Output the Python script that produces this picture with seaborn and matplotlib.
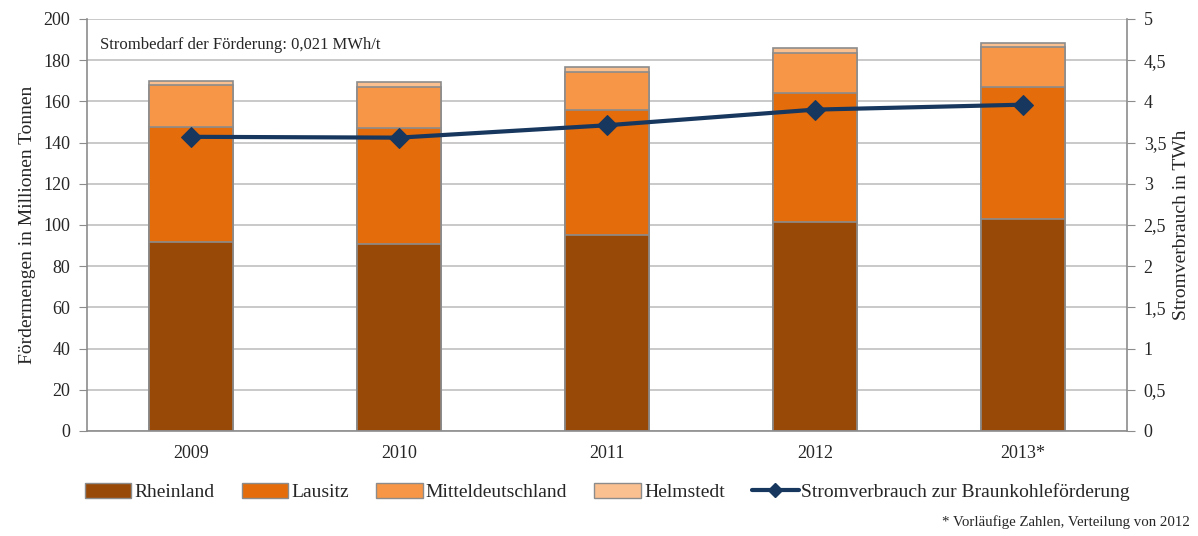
import numpy as np
import pandas as pd
import matplotlib
matplotlib.use("Agg")
import matplotlib.pyplot as plt
import matplotlib.ticker as mtick
from matplotlib.patches import Patch
from matplotlib.lines import Line2D
import seaborn as sns

# data
years = ["2009", "2010", "2011", "2012", "2013*"]
rheinland = [91.7, 90.8, 95.1, 101.5, 102.9]
lausitz = [55.9, 56.3, 60.7, 62.6, 64.1]
mitteldeutschland = [20.4, 19.9, 18.5, 19.4, 19.4]
helmstedt = [1.9, 2.4, 2.4, 2.4, 1.9]
strom = [3.57, 3.56, 3.71, 3.90, 3.96]

names = ["Rheinland", "Lausitz", "Mitteldeutschland", "Helmstedt"]
colors = ["#984807", "#E46C0A", "#F79646", "#FAC090"]
line_color = "#17375E"

sns.set_style("white")
plt.rcParams['font.family'] = ['Liberation Serif', 'DejaVu Serif']
plt.rcParams['font.size'] = 13

df = pd.DataFrame({"Jahr": years, "Rheinland": rheinland, "Lausitz": lausitz,
                   "Mitteldeutschland": mitteldeutschland, "Helmstedt": helmstedt})
cum = df[names].cumsum(axis=1)
cum["Jahr"] = years

fig = plt.figure(figsize=(11.98, 5.36), dpi=100)
ax = fig.add_axes([0.0726, 0.1959, 0.8681, 0.7687])

# stacked bars: draw cumulative totals from top layer down
for name, col in reversed(list(zip(names, colors))):
    sns.barplot(data=cum, x="Jahr", y=name, color=col, ax=ax, width=0.405,
                edgecolor="#8c8c8c", linewidth=1.2, saturation=1, zorder=2)

ax.set_ylim(0, 200)
ax.set_xlim(-0.5, 4.5)
ax.set_yticks(range(0, 201, 20))
ax.yaxis.grid(True, color="#c0c0c0", linewidth=1.2, zorder=0)
ax.set_axisbelow(True)
ax.set_xlabel("")
ax.set_ylabel("Fördermengen in Millionen Tonnen", fontsize=14, labelpad=5)
ax.tick_params(axis="x", which="major", length=0, pad=10, labelsize=13)
ax.set_xticks(np.arange(-0.5, 5, 1), minor=True)
ax.tick_params(axis="x", which="minor", length=6, color="#8c8c8c", direction="out")
ax.tick_params(axis="y", length=6, color="#8c8c8c", direction="out", pad=6, labelsize=13)
for s in ["left", "bottom"]:
    ax.spines[s].set_color("#8c8c8c")
    ax.spines[s].set_linewidth(1.2)
ax.spines["top"].set_visible(False)
ax.spines["right"].set_visible(False)

ax.text(0.0125, 0.937, "Strombedarf der Förderung: 0,021 MWh/t", transform=ax.transAxes,
        fontsize=12, va="center", ha="left")

ax2 = ax.twinx()
sns.lineplot(x=np.arange(len(years)), y=strom, ax=ax2, color=line_color, linewidth=3,
             marker="D", markersize=10, markeredgecolor=line_color, zorder=5)
ax2.set_ylim(0, 5)
ax2.set_yticks(np.arange(0, 5.01, 0.5))
ax2.yaxis.set_major_formatter(mtick.FuncFormatter(lambda v, p: f"{v:g}".replace(".", ",")))
ax2.set_ylabel("Stromverbrauch in TWh", fontsize=14, labelpad=5)
ax2.tick_params(axis="y", length=6, color="#8c8c8c", direction="out", pad=6, labelsize=13)
ax2.spines["right"].set_color("#8c8c8c")
ax2.spines["right"].set_linewidth(1.2)
for s in ["left", "top", "bottom"]:
    ax2.spines[s].set_visible(False)

handles = [Patch(facecolor=c, edgecolor="#8c8c8c", label=n) for n, c in zip(names, colors)]
handles.append(Line2D([0], [0], color=line_color, linewidth=3, marker="D", markersize=7,
                      label="Stromverbrauch zur Braunkohleförderung"))
fig.legend(handles=handles, loc="center", bbox_to_anchor=(0.507, 0.082), ncol=5,
           frameon=False, fontsize=14, handlelength=2.4, handleheight=0.8,
           handletextpad=0.15, columnspacing=1.4)

fig.text(0.993, 0.025, "* Vorläufige Zahlen, Verteilung von 2012", ha="right", va="center",
         fontsize=10.7)

fig.savefig("out.png", dpi=100)
